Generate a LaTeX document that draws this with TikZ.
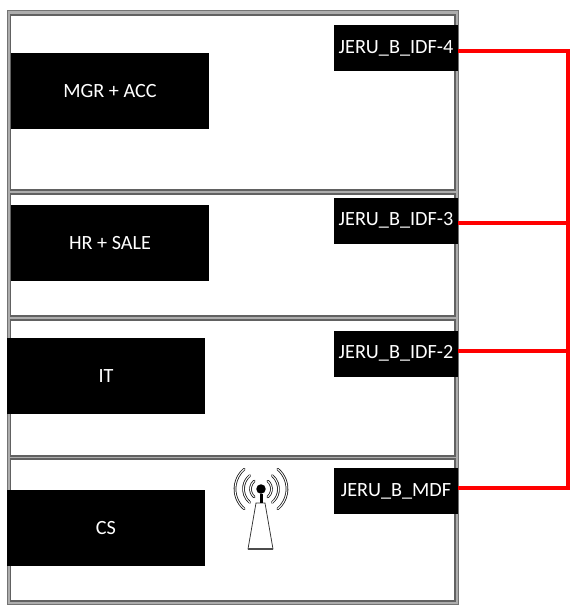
\documentclass[tikz,border=0pt]{standalone}
\usepackage{fontspec}
\setmainfont{Carlito}
\usepackage{tikz}
\tikzset{
  floorbox/.style={draw=black!62, line width=.4mm, fill=white},
  blockbox/.style={rectangle, fill=black, text=white, inner sep=0pt, minimum width=3.96cm, minimum height=1.52cm, font=\fontsize{11.5}{14}\selectfont},
  idfbox/.style={rectangle, fill=black, text=white, inner sep=0pt, minimum width=2.48cm, minimum height=.92cm, font=\fontsize{11.5}{14}\selectfont},
  redline/.style={draw=red, line width=.7mm},
  waveline/.style={draw=black!90, line width=.16mm, double=white, double distance=.2mm, line cap=round},
}
\begin{document}
\begin{tikzpicture}[x=.02cm, y=-.02cm]
\useasboundingbox (0,0) rectangle (583,613);
% building
\draw[fill=black!32, draw=black!55, line width=.2mm] (7.5,10.5) rectangle (458,604);
\draw[floorbox] (10.5,14.5) rectangle (455,190);
\draw[floorbox] (10.5,194) rectangle (455,316);
\draw[floorbox] (10.5,320) rectangle (455,455.5);
\draw[floorbox] (10.5,459) rectangle (455,600.5);
% departments
\node[blockbox] (mgr) at (110,91){MGR + ACC};
\node[blockbox] (hr) at (110,243){HR + SALE};
\node[blockbox] (it) at (106,376){IT};
\node[blockbox] (cs) at (106,528){CS};
% switches
\node[idfbox] (idf4) at (396,48){JERU\_B\_IDF-4};
\node[idfbox] (idf3) at (396,220.5){JERU\_B\_IDF-3};
\node[idfbox] (idf2) at (396,353.5){JERU\_B\_IDF-2};
\node[idfbox] (mdf) at (396,491){JERU\_B\_MDF};
% red links
\coordinate (busa) at (568,51);
\coordinate (busb) at (568,223);
\coordinate (busc) at (568,351);
\coordinate (busd) at (568,488);
\draw[redline] (idf4.east |- busa) -- (busa) -- (busd) -- (mdf.east |- busd);
\draw[redline] (idf3.east |- busb) -- (busb);
\draw[redline] (idf2.east |- busc) -- (busc);
% antenna
\node[circle, fill=black, inner sep=0pt, minimum size=.19cm] (ball) at (261,489){};
\draw[draw=black!80, line width=.15mm, fill=white] (256,503) -- (265,503) -- (273,549) -- (248,549) -- cycle;
\draw[black, line width=.6mm] (ball) -- (261,503);
\draw[black!70, line width=.3mm] (248,549) -- (273,549);
\foreach \r in {10.5,17.5,26} {
  \draw[waveline] (ball) ++(-50:\r) arc[start angle=-50, end angle=50, radius=\r];
  \draw[waveline] (ball) ++(130:\r) arc[start angle=130, end angle=230, radius=\r];
}
\end{tikzpicture}
\end{document}
